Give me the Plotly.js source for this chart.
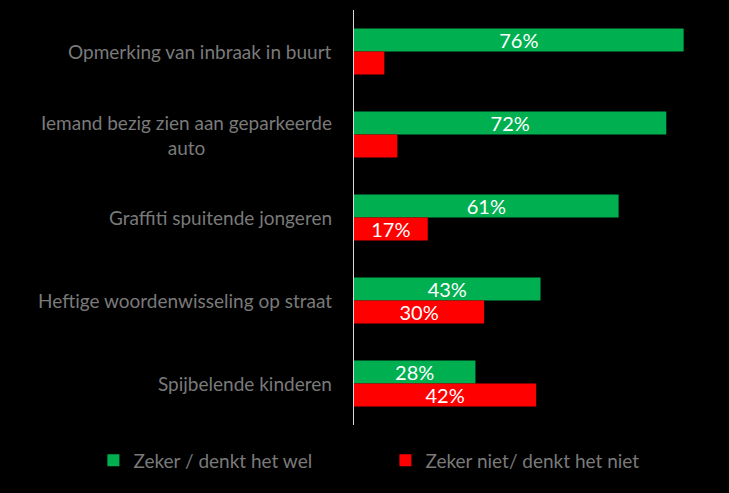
<!DOCTYPE html>
<html>
<head>
<meta charset="utf-8">
<script src="https://cdn.plot.ly/plotly-3.0.1.min.js"></script>
<style>html,body{margin:0;padding:0;background:#000;}#chart{width:729px;height:493px;}</style>
</head>
<body>
<div id="chart"></div>
<script>
const categories = [
  "Opmerking van inbraak in buurt",
  "Iemand bezig zien aan geparkeerde<br>auto",
  "Graffiti spuitende jongeren",
  "Heftige woordenwisseling op straat",
  "Spijbelende kinderen"
];
const zekerWel = [76, 72, 61, 43, 28];
const zekerNiet = [7, 10, 17, 30, 42];
const seriesNames = ["Zeker / denkt het wel", "Zeker niet/ denkt het niet"];
const showNietLabel = [false, false, true, true, true];

const FONT = "Lato, 'Open Sans', sans-serif";
const LABEL_GRAY = "#7a7a7a";

const traces = [
  {
    type: "bar", orientation: "h", name: seriesNames[0],
    y: categories, x: zekerWel,
    marker: {color: "#00B050"},
    text: zekerWel.map(v => v + "%"),
    textposition: "inside", insidetextanchor: "middle", constraintext: "none",
    textfont: {color: "#ffffff", size: 20, family: FONT},
    hoverinfo: "skip"
  },
  {
    type: "bar", orientation: "h", name: seriesNames[1],
    y: categories, x: zekerNiet,
    marker: {color: "#FF0000"},
    text: zekerNiet.map((v, i) => showNietLabel[i] ? v + "%" : ""),
    textposition: "inside", insidetextanchor: "middle", constraintext: "none",
    textfont: {color: "#ffffff", size: 20, family: FONT},
    hoverinfo: "skip"
  }
];

const layout = {
  width: 729, height: 493,
  paper_bgcolor: "#000000", plot_bgcolor: "#000000",
  margin: {l: 354, r: 28, t: 10, b: 68},
  barmode: "group",
  bargap: 0.446, bargroupgap: 0,
  font: {family: FONT, color: LABEL_GRAY},
  xaxis: {range: [0, 80], showgrid: false, zeroline: false, showticklabels: false, showline: false, fixedrange: true},
  yaxis: {
    type: "category", autorange: "reversed",
    showticklabels: false, showgrid: false, zeroline: false,
    showline: true, linecolor: "#d9d9d9", linewidth: 1, ticks: "", fixedrange: true
  },
  annotations: categories.map(c => ({
    xref: "paper", yref: "y", x: 0, y: c,
    xanchor: "right", yanchor: "middle", xshift: -20,
    text: c, showarrow: false, align: "center",
    font: {family: FONT, size: 19, color: LABEL_GRAY}
  })),
  showlegend: true,
  legend: {
    orientation: "h", x: -0.751, xanchor: "left", y: -0.085, yanchor: "middle",
    entrywidth: 247, entrywidthmode: "pixels",
    font: {family: FONT, size: 19, color: LABEL_GRAY},
    bgcolor: "rgba(0,0,0,0)", traceorder: "normal"
  }
};

Plotly.newPlot("chart", traces, layout, {displayModeBar: false, staticPlot: true});
</script>
</body>
</html>
